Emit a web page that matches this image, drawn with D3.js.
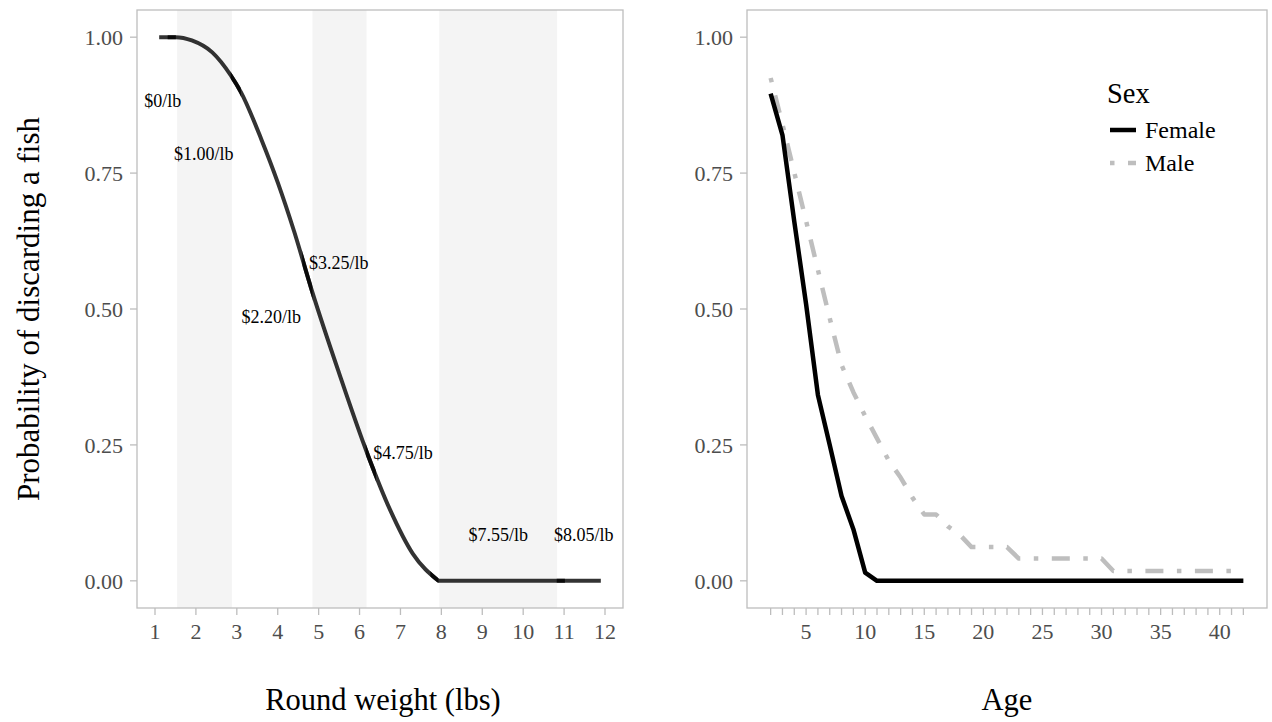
<!DOCTYPE html>
<html>
<head>
<meta charset="utf-8">
<script src="https://cdn.jsdelivr.net/npm/d3@7"></script>
<style>
  html, body { margin: 0; padding: 0; background: #fff; }
  svg { display: block; font-family: "Liberation Serif", "Times New Roman", serif; }
</style>
</head>
<body>
<svg id="chart" width="1272" height="722"></svg>
<script>
// ---------- Data: left panel ----------
const weightTicks = [1, 2, 3, 4, 5, 6, 7, 8, 9, 10, 11, 12];
const curveWeight = [1.1, 1.5, 1.9, 2.4, 2.85, 3.1, 3.6, 4.0, 4.4, 4.85, 5.5, 6.2, 6.75, 7.3, 7.93];
const curveProb   = [1.0, 1.0, 0.994, 0.972, 0.930, 0.899, 0.812, 0.733, 0.643, 0.530, 0.382, 0.232, 0.130, 0.050, 0.0];
const flatWeight = [7.93, 11.9];
const flatProb   = [0.0, 0.0];
const segStart = [1.1, 1.31, 2.85, 4.6, 6.15, 7.73, 10.82];
const segEnd   = [1.51, 3.1, 4.85, 6.4, 7.93, 11.02, 11.9];
const bandStart = [1.54, 4.85, 7.95];
const bandEnd   = [2.88, 6.17, 10.83];
const priceLabels = ["$0/lb", "$1.00/lb", "$2.20/lb", "$3.25/lb", "$4.75/lb", "$7.55/lb", "$8.05/lb"];
const labelWeight = [1.19, 2.19, 3.84, 5.49, 7.06, 9.39, 11.48];
const labelProb   = [0.884, 0.785, 0.486, 0.585, 0.236, 0.084, 0.084];
const probTicks = [0, 0.25, 0.5, 0.75, 1.0];

// ---------- Data: right panel ----------
const ages = [2,3,4,5,6,7,8,9,10,11,12,13,14,15,16,17,18,19,20,21,22,23,24,25,26,27,28,29,30,31,32,33,34,35,36,37,38,39,40,41,42];
const femaleProb = [0.896,0.82,0.661,0.509,0.342,0.25,0.156,0.095,0.015,0,0,0,0,0,0,0,0,0,0,0,0,0,0,0,0,0,0,0,0,0,0,0,0,0,0,0,0,0,0,0,0];
const maleProb   = [0.925,0.84,0.751,0.662,0.572,0.483,0.397,0.347,0.303,0.262,0.221,0.19,0.153,0.122,0.122,0.1,0.085,0.062,0.062,0.062,0.062,0.041,0.041,0.041,0.041,0.041,0.041,0.041,0.041,0.018,0.018,0.018,0.018,0.018,0.018,0.018,0.018,0.018,0.018,0.018,0.018];
const ageLabelTicks = [5, 10, 15, 20, 25, 30, 35, 40];
const sexes = ["Female", "Male"];

// ---------- Layout ----------
const svg = d3.select("#chart");
const frameCol = "#bdbdbd", tickTextCol = "#4d4d4d";
const plotTop = 10, plotBottom = 608;

const xL = d3.scaleLinear().domain([0.56, 12.44]).range([137, 623]);
const yS = d3.scaleLinear().domain([-0.05, 1.05]).range([plotBottom, plotTop]);
const xR = d3.scaleLinear().domain([0, 44]).range([747, 1267]);

// ---------- Left panel ----------
const gL = svg.append("g");
gL.selectAll("rect.band").data(bandStart).enter().append("rect")
  .attr("x", (d) => xL(d)).attr("y", plotTop)
  .attr("width", (d, i) => xL(bandEnd[i]) - xL(d)).attr("height", plotBottom - plotTop)
  .attr("fill", "#f4f4f4");

const curvePts = curveWeight.map((w, i) => [w, curveProb[i]]);
const flatPts = flatWeight.map((w, i) => [w, flatProb[i]]);
const lineL = d3.line().x(d => xL(d[0])).y(d => yS(d[1])).curve(d3.curveMonotoneX);
const lineFlat = d3.line().x(d => xL(d[0])).y(d => yS(d[1]));
const fullPath = lineL(curvePts) + lineFlat(flatPts).replace(/^M/, "L");
const defs = svg.append("defs");
segStart.forEach((s, i) => {
  defs.append("clipPath").attr("id", "seg" + i).append("rect")
    .attr("x", xL(s)).attr("y", 0)
    .attr("width", xL(segEnd[i]) - xL(s)).attr("height", 722);
  gL.append("path")
    .attr("d", fullPath).attr("fill", "none")
    .attr("stroke", "#000").attr("stroke-opacity", 0.8)
    .attr("stroke-width", 4).attr("stroke-linejoin", "round")
    .attr("clip-path", "url(#seg" + i + ")");
});

gL.selectAll("text.price").data(priceLabels).enter().append("text")
  .attr("x", (d, i) => xL(labelWeight[i])).attr("y", (d, i) => yS(labelProb[i]))
  .attr("dy", "0.35em").attr("text-anchor", "middle")
  .attr("font-size", 18).attr("fill", "#000").text(d => d);

gL.append("rect").attr("x", 137).attr("y", plotTop).attr("width", 623 - 137).attr("height", plotBottom - plotTop)
  .attr("fill", "none").attr("stroke", frameCol).attr("stroke-width", 1.3);

// y axis left
probTicks.forEach(t => {
  gL.append("line").attr("x1", 130).attr("x2", 137).attr("y1", yS(t)).attr("y2", yS(t))
    .attr("stroke", frameCol).attr("stroke-width", 1.3);
  gL.append("text").attr("x", 123).attr("y", yS(t)).attr("dy", "0.35em")
    .attr("text-anchor", "end").attr("font-size", 22).attr("fill", tickTextCol)
    .text(d3.format(".2f")(t));
});
// x axis left
weightTicks.forEach(t => {
  gL.append("line").attr("x1", xL(t)).attr("x2", xL(t)).attr("y1", plotBottom).attr("y2", plotBottom + 7)
    .attr("stroke", frameCol).attr("stroke-width", 1.3);
  gL.append("text").attr("x", xL(t)).attr("y", 639).attr("text-anchor", "middle")
    .attr("font-size", 22).attr("fill", tickTextCol).text(t);
});
svg.append("text").attr("x", 383).attr("y", 710).attr("text-anchor", "middle")
  .attr("font-size", 30.5).attr("fill", "#000").text("Round weight (lbs)");
svg.append("text").attr("transform", "translate(39," + ((plotTop + plotBottom) / 2) + ") rotate(-90)")
  .attr("text-anchor", "middle").attr("font-size", 31).attr("fill", "#000")
  .text("Probability of discarding a fish");

// ---------- Right panel ----------
const gR = svg.append("g");
const lineR = d3.line().x(d => xR(d[0])).y(d => yS(d[1]));
const malePts = ages.map((a, i) => [a, maleProb[i]]);
const femalePts = ages.map((a, i) => [a, femaleProb[i]]);
gR.append("path").datum(malePts).attr("d", lineR).attr("fill", "none")
  .attr("stroke", "#bebebe").attr("stroke-width", 4.5)
  .attr("stroke-dasharray", "4.5,13.5,18,13.5").attr("stroke-linejoin", "round");
gR.append("path").datum(femalePts).attr("d", lineR).attr("fill", "none")
  .attr("stroke", "#000").attr("stroke-width", 4.5).attr("stroke-linejoin", "round");

gR.append("rect").attr("x", 747).attr("y", plotTop).attr("width", 1267 - 747).attr("height", plotBottom - plotTop)
  .attr("fill", "none").attr("stroke", frameCol).attr("stroke-width", 1.3);

probTicks.forEach(t => {
  gR.append("line").attr("x1", 740).attr("x2", 747).attr("y1", yS(t)).attr("y2", yS(t))
    .attr("stroke", frameCol).attr("stroke-width", 1.3);
  gR.append("text").attr("x", 733).attr("y", yS(t)).attr("dy", "0.35em")
    .attr("text-anchor", "end").attr("font-size", 22).attr("fill", tickTextCol)
    .text(d3.format(".2f")(t));
});
d3.range(2, 43).forEach(t => {
  gR.append("line").attr("x1", xR(t)).attr("x2", xR(t)).attr("y1", plotBottom).attr("y2", plotBottom + 7)
    .attr("stroke", frameCol).attr("stroke-width", 1.3);
});
ageLabelTicks.forEach(t => {
  gR.append("text").attr("x", xR(t)).attr("y", 639).attr("text-anchor", "middle")
    .attr("font-size", 22).attr("fill", tickTextCol).text(t);
});
svg.append("text").attr("x", 1007).attr("y", 710).attr("text-anchor", "middle")
  .attr("font-size", 30.5).attr("fill", "#000").text("Age");

// Legend
const lg = svg.append("g");
lg.append("text").attr("x", 1107).attr("y", 103).attr("font-size", 28.5).attr("fill", "#000").text("Sex");
const keyY = [130, 163];
sexes.forEach((s, i) => {
  lg.append("line").attr("x1", 1110).attr("x2", 1136).attr("y1", keyY[i]).attr("y2", keyY[i])
    .attr("stroke", i === 0 ? "#000" : "#bebebe").attr("stroke-width", 4.5)
    .attr("stroke-dasharray", i === 0 ? null : "4.5,13.5,18,13.5");
  lg.append("text").attr("x", 1145).attr("y", keyY[i]).attr("dy", "0.35em")
    .attr("font-size", 24).attr("fill", "#000").text(s);
});
</script>
</body>
</html>
